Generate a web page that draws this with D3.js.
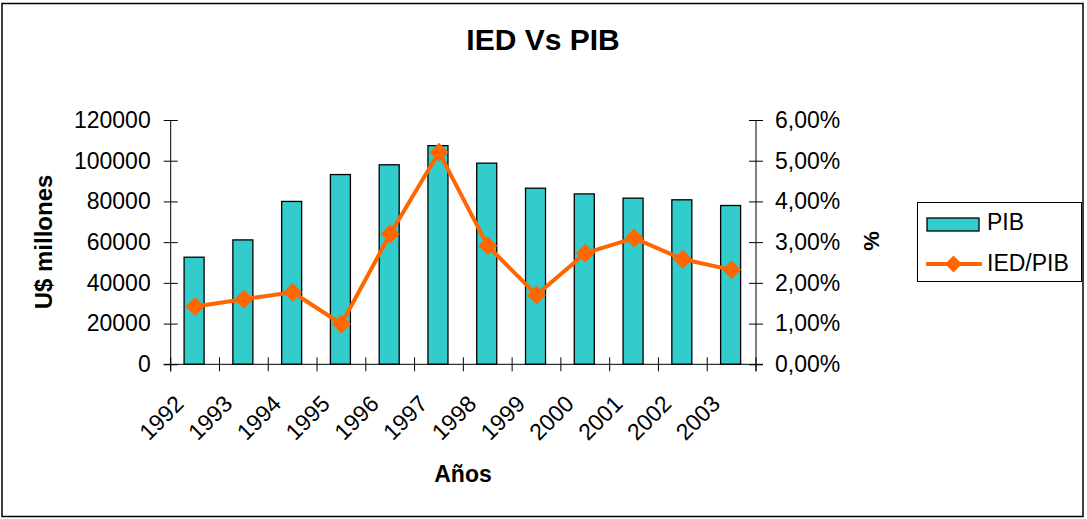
<!DOCTYPE html>
<html>
<head>
<meta charset="utf-8">
<script src="https://cdn.jsdelivr.net/npm/d3@7"></script>
<style>
  body { margin: 0; background: #fff; }
  svg text { font-family: "Liberation Sans", Arial, sans-serif; fill: #000; }
</style>
</head>
<body>
<div id="chart"></div>
<script>
// data
var years = ['1992', '1993', '1994', '1995', '1996', '1997', '1998', '1999', '2000', '2001', '2002', '2003'];
var pib = [52600, 61100, 80000, 93200, 98000, 107400, 98800, 86500, 83700, 81600, 80800, 78000];
var iedPib = [0.0142, 0.0160, 0.0177, 0.0099, 0.0320, 0.0521, 0.0291, 0.0170, 0.0273, 0.0310, 0.0258, 0.0232];
var leftTicks = [0, 20000, 40000, 60000, 80000, 100000, 120000];
var rightTicks = [0, 0.01, 0.02, 0.03, 0.04, 0.05, 0.06];

(function(){
  'use strict';

  var width = 1087, height = 519;
  var plot = { left: 170.7, right: 756, top: 120, bottom: 364.3 };
  var tickLen = 7;
  var barFill = '#33CCCC', lineColor = '#FF6600';

  var locale = d3.formatLocale({ decimal: ',', thousands: '.', grouping: [3], currency: ['', ''] });
  var pctFmt = locale.format('.2%');

  var svg = d3.select('#chart').append('svg')
    .attr('width', width)
    .attr('height', height);

  // chart frame
  svg.append('rect')
    .attr('x', 2).attr('y', 3.5)
    .attr('width', 1081).attr('height', 513)
    .attr('fill', '#fff')
    .attr('stroke', '#000')
    .attr('stroke-width', 1.5);

  var x = d3.scaleBand().domain(years).range([plot.left, plot.right]).padding(0);
  var yL = d3.scaleLinear().domain([0, 120000]).range([plot.bottom, plot.top]);
  var yR = d3.scaleLinear().domain([0, 0.06]).range([plot.bottom, plot.top]);

  // bars
  var barW = 20;
  svg.append('g').selectAll('rect.bar').data(pib).enter().append('rect')
    .attr('class', 'bar')
    .attr('x', function (d, i) { return x(years[i]) + x.bandwidth() / 2 - barW / 2 - 1; })
    .attr('y', function (d) { return yL(d); })
    .attr('width', barW)
    .attr('height', function (d) { return yL(0) - yL(d); })
    .attr('fill', barFill)
    .attr('stroke', '#000')
    .attr('stroke-width', 1.3);

  // left axis
  var axL = svg.append('g').attr('transform', 'translate(' + plot.left + ',0)')
    .call(d3.axisLeft(yL).tickValues(leftTicks).tickSizeInner(tickLen).tickSizeOuter(0).tickPadding(13)
      .tickFormat(d3.format('d')));
  axL.selectAll('.tick line').attr('x2', tickLen).attr('x1', -tickLen);
  styleAxis(axL, 23);
  axL.select('.domain').attr('d', 'M0,' + plot.top + 'V' + (plot.bottom + tickLen));

  // right axis
  var axR = svg.append('g').attr('transform', 'translate(' + plot.right + ',0)')
    .call(d3.axisRight(yR).tickValues(rightTicks).tickSizeInner(tickLen).tickSizeOuter(0).tickPadding(12)
      .tickFormat(pctFmt));
  axR.selectAll('.tick line').attr('x1', -tickLen).attr('x2', tickLen);
  styleAxis(axR, 23);
  axR.select('.domain').attr('d', 'M0,' + plot.top + 'V' + (plot.bottom + tickLen));

  // category axis
  var axX = svg.append('g').attr('transform', 'translate(0,' + plot.bottom + ')');
  axX.append('line')
    .attr('x1', plot.left - tickLen).attr('x2', plot.right + tickLen)
    .attr('stroke', '#000');
  axX.selectAll('line.tk').data(years.concat(['end'])).enter().append('line')
    .attr('class', 'tk')
    .attr('x1', function (d, i) { return plot.left + i * x.bandwidth(); })
    .attr('x2', function (d, i) { return plot.left + i * x.bandwidth(); })
    .attr('y1', -tickLen).attr('y2', tickLen)
    .attr('stroke', '#000');
  axX.selectAll('text').data(years).enter().append('text')
    .attr('transform', function (d) {
      return 'translate(' + (x(d) + x.bandwidth() / 2 - 10) + ',41) rotate(-45)';
    })
    .attr('text-anchor', 'end')
    .style('font-size', '23px')
    .text(function (d) { return d; });

  // line series
  var line = d3.line()
    .x(function (d, i) { return x(years[i]) + x.bandwidth() / 2; })
    .y(function (d) { return yR(d); });
  svg.append('path').datum(iedPib)
    .attr('d', line)
    .attr('fill', 'none')
    .attr('stroke', lineColor)
    .attr('stroke-width', 4)
    .attr('stroke-linejoin', 'round');
  svg.append('g').selectAll('path.mk').data(iedPib).enter().append('path')
    .attr('class', 'mk')
    .attr('d', function (d, i) { return diamond(x(years[i]) + x.bandwidth() / 2, yR(d), 9.5); })
    .attr('fill', lineColor);

  // titles
  svg.append('text').attr('x', 543).attr('y', 50).attr('text-anchor', 'middle')
    .style('font-size', '30px').style('font-weight', 'bold').text('IED Vs PIB');
  svg.append('text').attr('transform', 'translate(52,242) rotate(-90)').attr('text-anchor', 'middle')
    .style('font-size', '24px').style('font-weight', 'bold').text('U$ millones');
  svg.append('text').attr('transform', 'translate(879,241) rotate(-90)').attr('text-anchor', 'middle')
    .style('font-size', '22px').style('font-weight', 'bold').text('%');
  svg.append('text').attr('x', 463).attr('y', 482).attr('text-anchor', 'middle')
    .style('font-size', '23px').style('font-weight', 'bold').text('Años');

  // legend
  var lg = svg.append('g');
  lg.append('rect').attr('x', 917.5).attr('y', 202.5).attr('width', 164).attr('height', 79)
    .attr('fill', '#fff').attr('stroke', '#000').attr('stroke-width', 1);
  lg.append('rect').attr('x', 927).attr('y', 218).attr('width', 52).attr('height', 13)
    .attr('fill', barFill).attr('stroke', '#000').attr('stroke-width', 1.3);
  lg.append('text').attr('x', 987).attr('y', 230).style('font-size', '23px').text('PIB');
  lg.append('line').attr('x1', 926).attr('x2', 982).attr('y1', 264).attr('y2', 264)
    .attr('stroke', lineColor).attr('stroke-width', 4);
  lg.append('path').attr('d', diamond(953.5, 264, 8.5)).attr('fill', lineColor);
  lg.append('text').attr('x', 987).attr('y', 271).style('font-size', '23px').text('IED/PIB');

  function styleAxis(g, size) {
    g.selectAll('.tick line').attr('stroke', '#000');
    g.select('.domain').attr('stroke', '#000');
    g.selectAll('text').style('font-size', size + 'px')
      .style('font-family', '"Liberation Sans", Arial, sans-serif').attr('fill', '#000');
  }

  function diamond(cx, cy, r) {
    return 'M' + cx + ',' + (cy - r) + 'L' + (cx + r) + ',' + cy + 'L' + cx + ',' + (cy + r) + 'L' + (cx - r) + ',' + cy + 'Z';
  }
})();
</script>
</body>
</html>
